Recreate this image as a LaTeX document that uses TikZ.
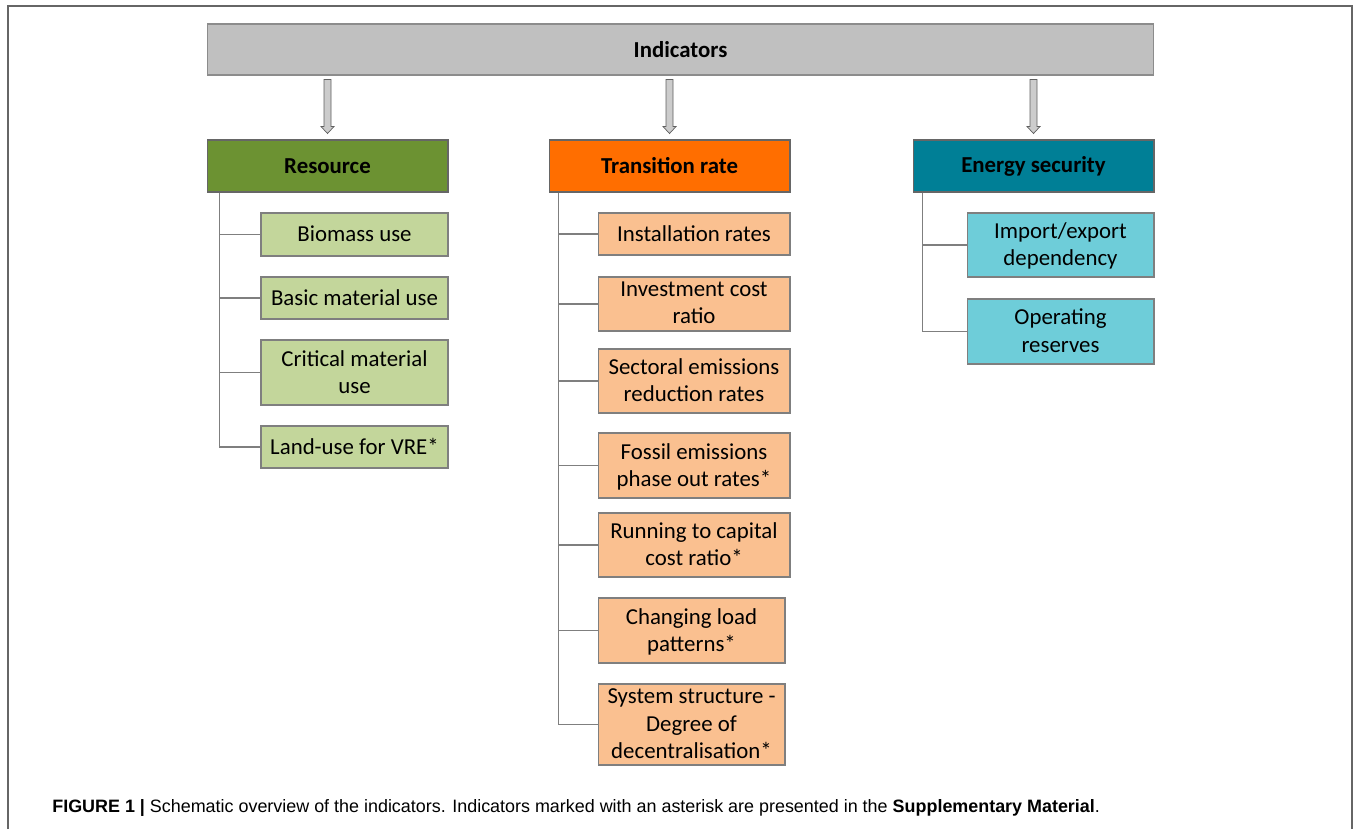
\documentclass[tikz,border=0pt]{standalone}
\usepackage{fontspec}
\setmainfont{Carlito}
\newfontfamily\capfont{Liberation Sans}
\usepackage{tikz}
\usetikzlibrary{arrows.meta,positioning,calc}
\definecolor{indgray}{HTML}{C0C0C0}
\definecolor{resgreen}{HTML}{6C9232}
\definecolor{trnorange}{HTML}{FF6E00}
\definecolor{secteal}{HTML}{007F96}
\definecolor{resitem}{HTML}{C3D69B}
\definecolor{trnitem}{HTML}{FAC090}
\definecolor{secitem}{HTML}{6ECDD9}
\definecolor{edge}{HTML}{7F7F7F}
\tikzset{
	boxtext/.style={font=\fontsize{13}{15.4}\selectfont,align=center,inner sep=0pt},
	hdr/.style={boxtext,font=\fontsize{13}{15.4}\selectfont\bfseries,draw=black!60,line width=0.6pt,minimum width=4.82cm,minimum height=1.04cm},
	item/.style={boxtext,draw=edge,line width=0.6pt,minimum width=3.74cm,text depth=1pt},
	tree/.style={draw=edge,line width=0.6pt},
	garrow/.style={fill=gray!40,draw=gray!75!black,line width=0.4pt},
}
\begin{document}
\begin{tikzpicture}[x=0.02cm,y=-0.02cm]
	\useasboundingbox (0,0) rectangle (1354,829);
	\draw [draw=black!60,line width=0.6pt] (8,829) -- (8,6) -- (1352,6) -- (1352,829);
	\node (ind) at (680.5,49.5) [boxtext,font=\fontsize{13}{15.4}\selectfont\bfseries,fill=indgray,draw=black!45,line width=0.6pt,minimum width=18.94cm,minimum height=1.02cm] {Indicators};
	\node (res) at (327.5,166) [hdr,fill=resgreen] {Resource};
	\node (trn) at (669.5,166) [hdr,fill=trnorange] {Transition rate};
	\node (sec) at (1033.5,166) [hdr,fill=secteal] {Energy security};
	\foreach \h in {res,trn,sec}
		\draw [garrow] ($(ind.south -| \h.north)+(-3.5,4)$) -- ++(7,0) -- ++(0,47) -- ++(3,0) -- ++(-6.5,7) -- ++(-6.5,-7) -- ++(3,0) -- cycle;
	\node (bio) at (354.5,234.5) [item,fill=resitem,minimum height=0.86cm] {Biomass use};
	\node (bas) at (354.5,298) [item,fill=resitem,minimum height=0.84cm] {Basic material use};
	\node (cri) at (354.5,372.5) [item,fill=resitem,minimum height=1.3cm] {Critical material\\use};
	\node (lan) at (354.5,447) [item,fill=resitem,minimum height=0.84cm] {Land-use for VRE*};
	\node (ins) at (694,234) [item,fill=trnitem,minimum width=3.84cm,minimum height=0.84cm] {Installation rates};
	\node (inv) at (694,304) [item,fill=trnitem,minimum width=3.84cm,minimum height=1.08cm] {Investment cost\\ratio};
	\node (sct) at (694,381) [item,fill=trnitem,minimum width=3.84cm,minimum height=1.28cm] {Sectoral emissions\\reduction rates};
	\node (fos) at (694,465.5) [item,fill=trnitem,minimum width=3.84cm,minimum height=1.3cm] {Fossil emissions\\phase out rates*};
	\node (run) at (694,545) [item,fill=trnitem,minimum width=3.84cm,minimum height=1.28cm] {Running to capital\\cost ratio*};
	\node (chg) at (691.5,630.5) [item,fill=trnitem,minimum height=1.3cm] {Changing load\\patterns*};
	\node (sys) at (691.5,724.5) [item,fill=trnitem,minimum height=1.62cm] {System structure -\\Degree of\\decentralisation*};
	\node (imp) at (1060.5,245) [item,fill=secitem,minimum height=1.28cm] {Import/export\\dependency};
	\node (ope) at (1060.5,331.5) [item,fill=secitem,minimum height=1.3cm] {Operating\\reserves};
	\coordinate (rtrunk) at ($(res.south west)+(13,0)$);
	\coordinate (ttrunk) at ($(trn.south west)+(10,0)$);
	\coordinate (strunk) at ($(sec.south west)+(10,0)$);
	\foreach \b in {bio,bas,cri,lan}
		\draw [tree] (rtrunk) |- (\b.west);
	\foreach \b in {ins,inv,sct,fos,run,chg,sys}
		\draw [tree] (ttrunk) |- (\b.west);
	\foreach \b in {imp,ope}
		\draw [tree] (strunk) |- (\b.west);
	\node (cap) at (52,812) [anchor=base west,inner sep=0pt,font=\capfont\fontsize{10.2}{12}\selectfont] {\textbf{FIGURE 1 |} Schematic overview of the indicators. Indicators marked with an asterisk are presented in the \textbf{Supplementary Material}.};
\end{tikzpicture}
\end{document}
